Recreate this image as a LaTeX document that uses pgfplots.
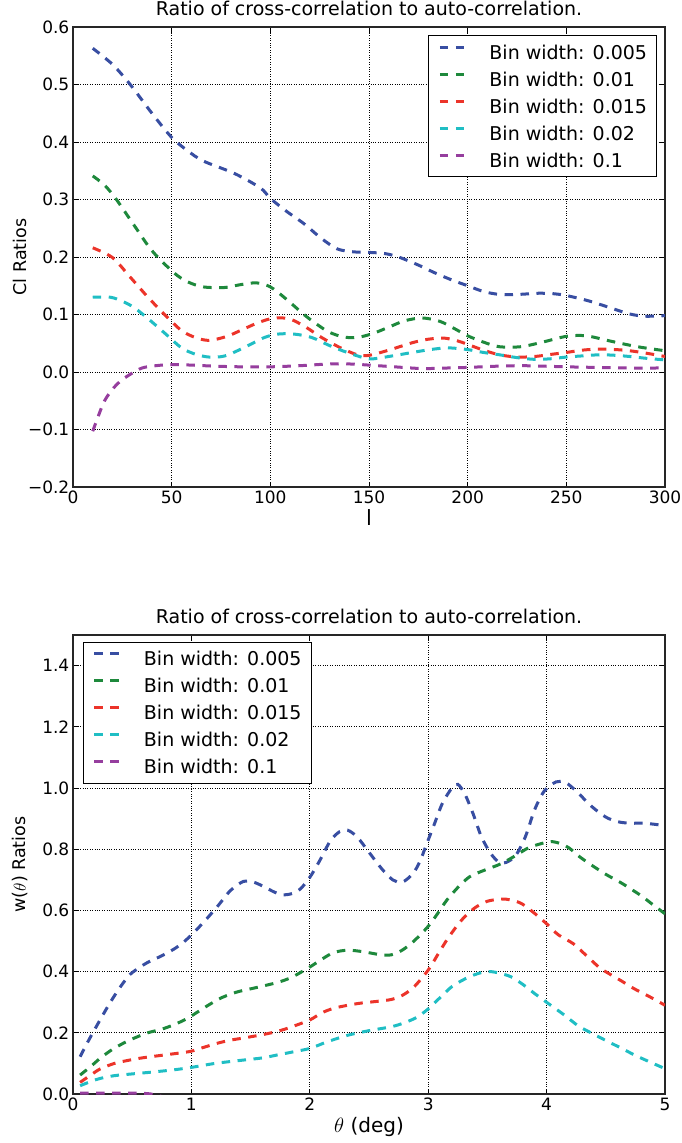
\documentclass[border=0pt]{standalone}
\usepackage{fontspec}
\setmainfont{DejaVu Sans}
\usepackage{pgfplots}
\pgfplotsset{compat=1.18}

\definecolor{cBlue}{RGB}{56,78,162}
\definecolor{cGreen}{RGB}{30,137,60}
\definecolor{cRed}{RGB}{236,52,42}
\definecolor{cCyan}{RGB}{32,190,196}
\definecolor{cPurple}{RGB}{150,62,158}

\newcommand\tickfont{\fontsize{17}{20}\selectfont}
\newcommand\labelfont{\fontsize{17.5}{21}\selectfont}
\newcommand\xlabelfont{\fontsize{20}{24}\selectfont}

\pgfplotsset{
  ratioaxis/.style={
    scale only axis,
    width=592pt, height=459pt,
    axis line style={line width=1.1pt, black!85},
    tick style={line width=0.9pt, black},
    major tick length=5.5pt,
    tick align=inside,
    grid=major,
    grid style={dotted, black, line width=0.7pt},
    tick label style={font=\tickfont},
    /pgf/number format/assume math mode=true,
    xticklabel style={inner sep=0pt, yshift=-3.5pt},
    yticklabel style={inner sep=0pt, xshift=-3.5pt},
    title style={at={(axis description cs:0.5,1)}, anchor=base, yshift=6pt,
                 inner sep=0pt, font=\fontsize{19}{22}\selectfont},
    every axis x label/.style={at={(axis description cs:0.5,0)}, anchor=base,
                 yshift=-38pt},
    every axis y label/.style={at={(axis description cs:-0.089,0.5)}, rotate=90,
                 anchor=center},
    legend cell align=left,
    legend style={draw=black, line width=1pt, fill=white,
                  font=\fontsize{19}{22}\selectfont,
                  inner xsep=9.5pt, inner ysep=3pt, row sep=0pt,
                  nodes={inner xsep=0pt, inner ysep=6.5pt, text height=14pt, text depth=0pt},
                  /tikz/every odd column/.append style={column sep=23pt}},
    legend image code/.code={%
      \draw[#1] (0pt,5pt) -- (25pt,5pt);},
    every axis plot/.append style={line width=3pt, dash pattern=on 8.5pt off 7.5pt, line cap=butt},
  }
}

\begin{document}
\begin{tikzpicture}[x=1pt,y=1pt]
\useasboundingbox (0,0) rectangle (682,-1143);

% Angular power spectrum ratios
\begin{axis}[ratioaxis,
  at={(73pt,-487pt)}, anchor=south west, height=460pt,
  xmin=0, xmax=300, ymin=-0.2, ymax=0.6,
  xtick={0,50,...,300},
  ytick={-0.2,-0.1,0,0.1,0.2,0.3,0.4,0.5,0.6},
  yticklabels={−0.2,−0.1,0.0,0.1,0.2,0.3,0.4,0.5,0.6},
  title={Ratio of cross-correlation to auto-correlation.},
  xlabel={\fontsize{21}{25}\selectfont l}, ylabel={\labelfont Cl Ratios},
  legend style={at={(0.9866,0.9826)}, anchor=north east},
]
\addplot[cBlue, smooth] coordinates {(10,0.563)(20,0.535)(29,0.5)(40,0.45)(50,0.408)(58,0.385)(66,0.367)(82,0.345)(95,0.32)(100,0.302)(108,0.28)(117,0.258)(126,0.232)(134,0.214)(142,0.209)(150,0.208)(158,0.206)(165,0.2)(175,0.186)(183,0.173)(192,0.16)(200,0.15)(208,0.14)(216,0.135)(226,0.135)(236,0.137)(244,0.136)(250,0.133)(261,0.124)(272,0.112)(282,0.101)(290,0.097)(300,0.098)};
\addlegendentry{Bin width: 0.005}
\addplot[cGreen, smooth] coordinates {(10,0.341)(16,0.325)(22,0.3)(31,0.255)(40,0.211)(51,0.173)(58,0.157)(66,0.148)(77,0.147)(85,0.152)(93,0.155)(100,0.148)(108,0.127)(117,0.1)(124,0.082)(130,0.069)(137,0.061)(144,0.06)(152,0.067)(160,0.078)(168,0.089)(177,0.094)(186,0.088)(193,0.076)(200,0.063)(208,0.052)(216,0.044)(227,0.044)(238,0.052)(250,0.062)(260,0.063)(272,0.054)(286,0.044)(300,0.037)};
\addlegendentry{Bin width: 0.01}
\addplot[cRed, smooth] coordinates {(10,0.216)(20,0.199)(29,0.165)(38,0.13)(47,0.098)(55,0.072)(62,0.06)(69,0.055)(78,0.062)(86,0.074)(94,0.086)(102,0.094)(110,0.092)(118,0.078)(126,0.06)(135,0.043)(144,0.03)(150,0.029)(160,0.038)(172,0.051)(180,0.057)(188,0.059)(195,0.054)(200,0.048)(208,0.038)(216,0.03)(225,0.026)(234,0.027)(243,0.031)(250,0.034)(258,0.038)(267,0.04)(275,0.039)(282,0.037)(290,0.033)(300,0.027)};
\addlegendentry{Bin width: 0.015}
\addplot[cCyan, smooth] coordinates {(10,0.13)(19,0.13)(25,0.123)(31,0.112)(39,0.09)(47,0.066)(55,0.042)(62,0.031)(69,0.026)(77,0.028)(87,0.043)(97,0.06)(104,0.066)(112,0.066)(121,0.06)(130,0.046)(139,0.034)(150,0.023)(160,0.027)(172,0.034)(181,0.039)(190,0.042)(200,0.039)(208,0.034)(216,0.03)(225,0.025)(234,0.022)(242,0.023)(250,0.026)(258,0.028)(267,0.03)(275,0.029)(282,0.027)(290,0.024)(300,0.021)};
\addlegendentry{Bin width: 0.02}
\addplot[cPurple, smooth] coordinates {(10,-0.103)(13,-0.075)(16,-0.05)(20,-0.03)(24,-0.016)(29,-0.004)(35,0.007)(42,0.011)(50,0.013)(60,0.012)(73,0.01)(86,0.009)(100,0.009)(115,0.011)(130,0.014)(140,0.014)(150,0.012)(163,0.009)(177,0.006)(190,0.007)(200,0.008)(214,0.01)(227,0.011)(240,0.01)(250,0.009)(265,0.008)(280,0.007)(300,0.007)};
\addlegendentry{Bin width: 0.1}
\end{axis}

% Angular correlation function ratios
\begin{axis}[ratioaxis,
  at={(73pt,-1094pt)}, anchor=south west,
  xmin=0, xmax=5, ymin=0, ymax=1.5,
  xtick={0,1,...,5},
  ytick={0,0.2,...,1.4},
  yticklabel style={/pgf/number format/.cd, fixed, fixed zerofill, precision=1},
  title={Ratio of cross-correlation to auto-correlation.},
  xlabel={\xlabelfont$\theta$ (deg)}, ylabel={\labelfont w($\theta$) Ratios},
  legend style={at={(0.0168,0.985)}, anchor=north west},
]
\addplot[cBlue, smooth] coordinates {(0.06,0.122)(0.15,0.188)(0.3,0.29)(0.4,0.35)(0.48,0.39)(0.56,0.413)(0.63,0.43)(0.74,0.45)(0.85,0.473)(0.93,0.495)(1.0,0.52)(1.1,0.56)(1.22,0.613)(1.33,0.665)(1.44,0.695)(1.52,0.693)(1.6,0.68)(1.7,0.66)(1.77,0.651)(1.85,0.655)(1.92,0.67)(2.0,0.708)(2.08,0.76)(2.17,0.825)(2.25,0.857)(2.32,0.862)(2.4,0.84)(2.5,0.79)(2.61,0.735)(2.7,0.7)(2.78,0.692)(2.87,0.72)(2.93,0.76)(2.98,0.81)(3.05,0.88)(3.12,0.95)(3.2,1.0)(3.25,1.012)(3.31,0.98)(3.38,0.915)(3.45,0.84)(3.53,0.785)(3.6,0.757)(3.66,0.757)(3.74,0.78)(3.82,0.84)(3.9,0.93)(3.98,0.99)(4.08,1.02)(4.16,1.018)(4.25,0.99)(4.38,0.94)(4.5,0.905)(4.6,0.89)(4.7,0.885)(4.81,0.885)(4.9,0.882)(5.0,0.877)};
\addlegendentry{Bin width: 0.005}
\addplot[cGreen, smooth] coordinates {(0.06,0.062)(0.15,0.09)(0.23,0.117)(0.33,0.145)(0.45,0.171)(0.55,0.188)(0.63,0.2)(0.75,0.212)(0.85,0.226)(0.93,0.24)(1.0,0.255)(1.1,0.28)(1.22,0.308)(1.3,0.322)(1.4,0.335)(1.55,0.348)(1.73,0.365)(1.85,0.382)(2.0,0.415)(2.1,0.44)(2.2,0.462)(2.32,0.47)(2.45,0.465)(2.6,0.455)(2.69,0.455)(2.78,0.47)(2.88,0.5)(3.0,0.548)(3.08,0.59)(3.16,0.635)(3.27,0.683)(3.35,0.71)(3.42,0.723)(3.52,0.738)(3.6,0.75)(3.68,0.766)(3.75,0.782)(3.85,0.805)(3.97,0.82)(4.04,0.825)(4.12,0.818)(4.19,0.804)(4.28,0.775)(4.38,0.748)(4.5,0.718)(4.63,0.69)(4.72,0.668)(4.81,0.645)(4.9,0.618)(5.0,0.589)};
\addlegendentry{Bin width: 0.01}
\addplot[cRed, smooth] coordinates {(0.06,0.038)(0.15,0.062)(0.23,0.082)(0.35,0.1)(0.48,0.111)(0.6,0.119)(0.78,0.128)(0.9,0.134)(1.0,0.14)(1.1,0.152)(1.22,0.166)(1.33,0.176)(1.44,0.183)(1.6,0.194)(1.73,0.205)(1.85,0.22)(2.0,0.242)(2.1,0.265)(2.2,0.28)(2.32,0.29)(2.43,0.297)(2.55,0.302)(2.69,0.309)(2.78,0.322)(2.88,0.35)(3.0,0.405)(3.08,0.455)(3.16,0.505)(3.24,0.548)(3.31,0.58)(3.4,0.61)(3.5,0.63)(3.62,0.637)(3.7,0.634)(3.79,0.622)(3.9,0.59)(4.01,0.553)(4.1,0.52)(4.23,0.49)(4.35,0.447)(4.45,0.412)(4.52,0.395)(4.63,0.37)(4.74,0.344)(4.87,0.318)(5.0,0.29)};
\addlegendentry{Bin width: 0.015}
\addplot[cCyan, smooth] coordinates {(0.06,0.027)(0.15,0.041)(0.23,0.051)(0.35,0.06)(0.48,0.065)(0.65,0.071)(0.85,0.079)(1.0,0.087)(1.2,0.1)(1.44,0.111)(1.6,0.118)(1.73,0.128)(1.85,0.137)(2.0,0.149)(2.15,0.171)(2.32,0.192)(2.5,0.207)(2.69,0.22)(2.8,0.233)(2.9,0.25)(3.0,0.278)(3.1,0.315)(3.2,0.351)(3.3,0.374)(3.38,0.388)(3.46,0.398)(3.53,0.4)(3.6,0.395)(3.7,0.383)(3.8,0.358)(3.9,0.328)(4.01,0.297)(4.15,0.258)(4.27,0.222)(4.4,0.195)(4.52,0.171)(4.63,0.15)(4.74,0.128)(4.87,0.105)(5.0,0.083)};
\addlegendentry{Bin width: 0.02}
\addplot[cPurple, smooth] coordinates {(0.06,0.003)(0.2,0.003)(0.35,0.003)(0.5,0.003)(0.6,0.002)(0.66,0.0)(0.72,-0.006)(0.9,-0.015)(1.2,-0.02)(2,-0.025)(3,-0.03)(4,-0.03)(5,-0.03)};
\addlegendentry{Bin width: 0.1}
\end{axis}
\end{tikzpicture}
\end{document}
